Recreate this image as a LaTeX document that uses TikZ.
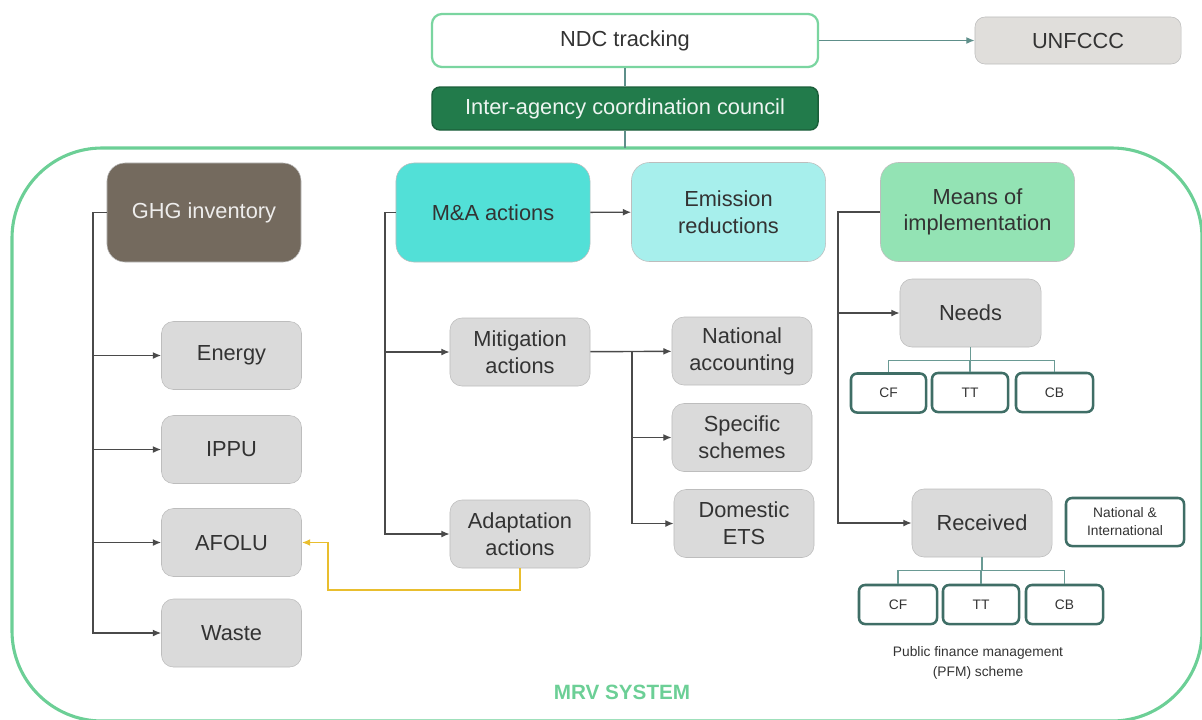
\documentclass[tikz,border=0pt]{standalone}
\usepackage{fontspec}
\setmainfont{Liberation Sans}
\usetikzlibrary{arrows.meta}
\definecolor{ink}{HTML}{333333}
\definecolor{mrvgreen}{HTML}{6CCF96}
\definecolor{ndcline}{HTML}{7AD5A0}
\definecolor{councilfill}{HTML}{227B4B}
\definecolor{councilline}{HTML}{1B5E3A}
\definecolor{unfill}{HTML}{E0DEDB}
\definecolor{boxline}{HTML}{BDBDBD}
\definecolor{boxfill}{HTML}{DADADA}
\definecolor{tealline}{HTML}{5E8F8A}
\definecolor{ghgfill}{HTML}{746A5E}
\definecolor{mafill}{HTML}{52E0D7}
\definecolor{erfill}{HTML}{A7EFEC}
\definecolor{moifill}{HTML}{93E3B4}
\definecolor{leafline}{HTML}{3F6E66}
\definecolor{treeline}{HTML}{6A9A94}
\definecolor{flowline}{HTML}{4A4A4A}
\definecolor{adaptline}{HTML}{E9BE2E}

\begin{document}
\begin{tikzpicture}[x=0.025cm, y=-0.025cm,
	txt/.style={font=\fontsize{15.5}{19}\selectfont, text=ink, align=center},
	head/.style={txt, draw=boxline, rounded corners=0.45cm, minimum width=4.85cm, minimum height=2.475cm},
	box/.style={txt, draw=boxline, fill=boxfill, rounded corners=0.3cm, minimum width=3.5cm, minimum height=1.7cm},
	leaf/.style={font=\fontsize{9.8}{12.8}\selectfont, text=ink, align=center, draw=leafline, line width=1.8pt, fill=white, rounded corners=0.15cm, minimum height=0.975cm},
	flow/.style={draw=flowline, line width=1pt, -{Latex[length=6pt,width=5pt]}},
	tree/.style={draw=treeline, line width=1pt},
]
\useasboundingbox (0,0) rectangle (1202,719);
\draw[mrvgreen, line width=2.2pt, rounded corners=2.25cm] (12,148) rectangle (1202,721);
\coordinate (frametop) at (625,148);

\node[txt, draw=ndcline, line width=1.6pt, fill=white, rounded corners=0.25cm, minimum width=9.65cm, minimum height=1.325cm] (ndc) at (625,40.5) {NDC tracking};
\node[txt, draw=boxline, fill=unfill, rounded corners=0.25cm, minimum width=5.15cm, minimum height=1.175cm] (unfccc) at (1078,40.5) {UNFCCC};
\node[txt, text=white!92!councilfill, draw=councilline, line width=1pt, fill=councilfill, rounded corners=0.2cm, minimum width=9.65cm, minimum height=1.075cm] (council) at (625,108.5) {Inter-agency coordination council};

\draw[tealline, line width=1pt, -{Latex[length=6pt,width=5pt]}] (ndc) -- (unfccc);
\draw[tealline, line width=1pt] (ndc) -- (council);
\draw[tealline, line width=1pt] (council) -- (frametop);

\node[head, fill=ghgfill, text=white!88!ghgfill] (ghg) at (204,212.5) {GHG inventory};
\node[head, fill=mafill] (ma) at (493,212.5) {M\&A actions};
\node[head, fill=erfill] (er) at (728.5,212) {Emission\\reductions};
\node[head, fill=moifill] (moi) at (977.5,212) {Means of\\implementation};

\node[box] (energy) at (231.5,355.5) {Energy};
\node[box] (ippu) at (231.5,449.5) {IPPU};
\node[box] (afolu) at (231.5,542.5) {AFOLU};
\node[box] (waste) at (231.5,633) {Waste};

\node[box] (mit) at (520,352) {Mitigation\\actions};
\node[box] (adapt) at (520,534) {Adaptation\\actions};
\node[box] (natacc) at (742,351) {National\\accounting};
\node[box] (spec) at (742,437.5) {Specific\\schemes};
\node[box] (dets) at (744,523.5) {Domestic\\ETS};

\node[box, minimum width=3.525cm] (needs) at (970.5,313) {Needs};
\node[box] (received) at (982,523) {Received};
\node[leaf, minimum width=2.95cm, minimum height=1.2cm] (natint) at (1125,522) {National \&\\International};

\node[leaf, minimum width=1.875cm] (ncf) at (888.5,393) {CF};
\node[leaf, minimum width=1.9cm] (ntt) at (970,392.5) {TT};
\node[leaf, minimum width=1.925cm] (ncb) at (1054.5,392.5) {CB};
\node[leaf, minimum width=1.95cm] (rcf) at (898,604.5) {CF};
\node[leaf, minimum width=1.9cm] (rtt) at (981,604.5) {TT};
\node[leaf, minimum width=1.925cm] (rcb) at (1064.5,604.5) {CB};

\node[font=\fontsize{9.8}{14}\selectfont, text=ink, align=center] (pfm) at (978,663) {Public finance management\\(PFM) scheme};
\node[font=\fontsize{14.7}{17}\selectfont\bfseries, text=mrvgreen] (mrv) at (622,692) {MRV SYSTEM};

\coordinate (gbus) at (93,0);
\coordinate (mbus) at (385,0);
\coordinate (sbus) at (632,0);
\coordinate (rbus) at (838,0);

\draw[flow] (ghg.west) -- (ghg.west -| gbus) |- (waste);
\foreach \n in {energy,ippu,afolu}{
	\draw[flow] (\n.west -| gbus) -- (\n);
}
\draw[flow] (ma) -- (er);
\draw[flow] (ma.west) -- (ma.west -| mbus) |- (adapt);
\draw[flow] (mit.west -| mbus) -- (mit);
\draw[flow] (mit) -- (natacc);
\draw[flow] (mit.east -| sbus) |- (dets);
\draw[flow] (spec.west -| sbus) -- (spec);
\draw[flow] (moi.west) -- (moi.west -| rbus) |- (received);
\draw[flow] (needs.west -| rbus) -- (needs);
\draw[flow, draw=adaptline, line width=1.3pt] (adapt.south) |- (328,590) |- (afolu.east);

\foreach \n in {ncf,ntt,ncb}{
	\draw[tree] (needs.south) -- ++(0,13) -| (\n.north);
}
\foreach \n in {rcf,rtt,rcb}{
	\draw[tree] (received.south) -- ++(0,13) -| (\n.north);
}
\end{tikzpicture}
\end{document}
